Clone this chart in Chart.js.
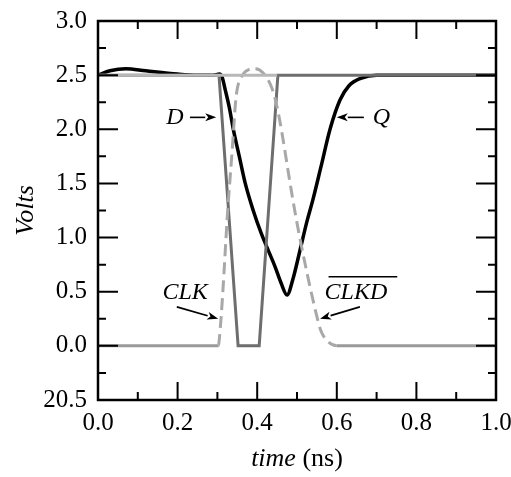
<!DOCTYPE html>
<html>
<head>
<meta charset="utf-8">
<script src="https://cdn.jsdelivr.net/npm/chart.js@4.4.0/dist/chart.umd.min.js"></script>
<style>
  html, body { margin: 0; padding: 0; background: #fff; }
  #wrap { width: 511px; height: 477px; position: relative; }
</style>
</head>
<body>
<div id="wrap"><canvas id="chart"></canvas></div>
<script>
// Q output (black)
const tQ = [0, 0.03, 0.07, 0.12, 0.2, 0.25, 0.29, 0.305, 0.312, 0.32, 0.33, 0.34, 0.355, 0.37, 0.39, 0.41, 0.445, 0.46, 0.475,
            0.49, 0.508, 0.525, 0.54, 0.56, 0.583, 0.608, 0.63, 0.66, 0.7, 0.75, 1.0];
const vQ = [2.5, 2.54, 2.56, 2.54, 2.51, 2.5, 2.5, 2.51, 2.48, 2.36, 2.2, 2.0, 1.75, 1.5, 1.25, 1.04, 0.73, 0.58, 0.47,
            0.62, 0.89, 1.15, 1.35, 1.65, 2.0, 2.27, 2.4, 2.47, 2.5, 2.5, 2.5];

// D input (dark gray)
const tD = [0, 0.304, 0.352, 0.405, 0.452, 1.0];
const vD = [2.5, 2.5, 0, 0, 2.5, 2.5];

// CLK / CLKD (light gray, dashed on the edges)
const tClk = [0, 0.302, 0.308, 0.314, 0.325, 0.337, 0.347, 0.36, 0.378, 0.395, 0.415, 0.437, 0.452, 0.49, 0.508,
              0.55, 0.56, 0.575, 0.6, 1.0];
const vClk = [0, 0, 0.2, 0.52, 1.2, 1.8, 2.3, 2.48, 2.55, 2.56, 2.52, 2.38, 2.17, 1.34, 0.98,
              0.27, 0.14, 0.05, 0, 0];

// light gray level under D
const tTop = [0, 0.45];
const vTop = [2.5, 2.5];

const xTicks = [0, 0.2, 0.4, 0.6, 0.8, 1.0];
const xTickLabels = ['0.0', '0.2', '0.4', '0.6', '0.8', '1.0'];
const yTicks = [-0.5, 0, 0.5, 1.0, 1.5, 2.0, 2.5, 3.0];
const yTickLabels = ['20.5', '0.0', '0.5', '1.0', '1.5', '2.0', '2.5', '3.0'];

// labels with arrows, in data units
const notes = [
  { text: 'D', t: 0.193, v: 2.11, from: [0.231, 2.11], to: [0.297, 2.11], bar: false },
  { text: 'Q', t: 0.712, v: 2.11, from: [0.668, 2.11], to: [0.600, 2.11], bar: false },
  { text: 'CLK', t: 0.219, v: 0.49, from: [0.198, 0.36], to: [0.302, 0.25], bar: false },
  { text: 'CLKD', t: 0.648, v: 0.49, from: [0.658, 0.36], to: [0.558, 0.25], bar: true }
];

const serif = '"Times New Roman", Times, "Liberation Serif", serif';

function pts(xs, ys) {
  return xs.map((x, i) => ({ x: x, y: ys[i] }));
}

const isEdge = ctx => ctx.p0.parsed.y > 0.01 || ctx.p1.parsed.y > 0.01;

// frame, inside ticks, titles and notes
const decor = {
  id: 'decor',
  afterDatasetsDraw(chart) {
    const c = chart.ctx;
    const a = chart.chartArea;
    const xs = chart.scales.x;
    const ys = chart.scales.y;
    c.save();
    c.strokeStyle = '#000';
    c.lineWidth = 2;
    c.beginPath();
    for (let i = 0; i <= 10; i++) {
      const px = xs.getPixelForValue(i / 10);
      const len = i % 2 === 0 ? 18 : 8;
      c.moveTo(px, a.bottom); c.lineTo(px, a.bottom - len);
      c.moveTo(px, a.top); c.lineTo(px, a.top + len);
    }
    for (let i = 0; i <= 14; i++) {
      const py = ys.getPixelForValue(-0.5 + i * 0.25);
      const len = i % 2 === 0 ? 20 : 8;
      c.moveTo(a.left, py); c.lineTo(a.left + len, py);
      c.moveTo(a.right, py); c.lineTo(a.right - len, py);
    }
    c.stroke();
    c.lineWidth = 2.5;
    c.strokeRect(a.left, a.top, a.right - a.left, a.bottom - a.top);

    // axis titles
    c.fillStyle = '#000';
    c.textBaseline = 'alphabetic';
    c.font = 'italic 26px ' + serif;
    const w1 = c.measureText('time ').width;
    c.font = '26px ' + serif;
    const w2 = c.measureText('(ns)').width;
    const cx = (a.left + a.right) / 2;
    let x0 = cx - (w1 + w2) / 2;
    c.font = 'italic 26px ' + serif;
    c.textAlign = 'left';
    c.fillText('time ', x0, 466);
    c.font = '26px ' + serif;
    c.fillText('(ns)', x0 + w1, 466);

    c.save();
    c.translate(33, (a.top + a.bottom) / 2);
    c.rotate(-Math.PI / 2);
    c.textAlign = 'center';
    c.font = 'italic 26px ' + serif;
    c.fillText('Volts', 0, 0);
    c.restore();

    // notes
    c.font = 'italic 24px ' + serif;
    c.textAlign = 'center';
    c.textBaseline = 'middle';
    c.lineWidth = 1.6;
    notes.forEach(n => {
      const px = xs.getPixelForValue(n.t);
      const py = ys.getPixelForValue(n.v);
      c.fillText(n.text, px, py);
      if (n.bar) {
        const w = c.measureText(n.text).width;
        c.beginPath();
        c.moveTo(px - w / 2 + 4, py - 16);
        c.lineTo(px + w / 2 + 10, py - 16);
        c.stroke();
      }
      const x1 = xs.getPixelForValue(n.from[0]), y1 = ys.getPixelForValue(n.from[1]);
      const x2 = xs.getPixelForValue(n.to[0]), y2 = ys.getPixelForValue(n.to[1]);
      const ang = Math.atan2(y2 - y1, x2 - x1);
      const hl = 11, hw = 4;
      const bx = x2 - hl * Math.cos(ang), by = y2 - hl * Math.sin(ang);
      c.beginPath();
      c.moveTo(x1, y1); c.lineTo(bx, by);
      c.stroke();
      c.beginPath();
      c.moveTo(x2, y2);
      c.lineTo(bx + hw * Math.sin(ang), by - hw * Math.cos(ang));
      c.lineTo(bx + 3 * Math.cos(ang), by + 3 * Math.sin(ang));
      c.lineTo(bx - hw * Math.sin(ang), by + hw * Math.cos(ang));
      c.closePath();
      c.fill();
    });
    c.restore();
  }
};

new Chart(document.getElementById('chart'), {
  type: 'line',
  data: {
    datasets: [
      {
        label: 'top',
        data: pts(tTop, vTop),
        borderColor: '#b8b8b8',
        borderWidth: 3,
        pointRadius: 0,
        tension: 0
      },
      {
        label: 'CLK',
        data: pts(tClk, vClk),
        borderColor: '#9a9a9a',
        borderWidth: 3,
        pointRadius: 0,
        cubicInterpolationMode: 'monotone',
        segment: {
          borderDash: ctx => isEdge(ctx) ? [12, 6] : undefined,
          borderColor: ctx => isEdge(ctx) ? '#a8a8a8' : undefined
        }
      },
      {
        label: 'D',
        data: pts(tD, vD),
        borderColor: '#6e6e6e',
        borderWidth: 3,
        pointRadius: 0,
        tension: 0
      },
      {
        label: 'Q',
        data: pts(tQ, vQ),
        borderColor: '#000',
        borderWidth: 3.5,
        pointRadius: 0,
        cubicInterpolationMode: 'monotone'
      }
    ]
  },
  options: {
    responsive: true,
    maintainAspectRatio: false,
    animation: false,
    events: [],
    layout: { padding: { top: 21, right: 15, bottom: 0, left: 0 } },
    plugins: {
      legend: { display: false },
      tooltip: { enabled: false }
    },
    scales: {
      x: {
        type: 'linear',
        min: 0,
        max: 1,
        afterBuildTicks: scale => { scale.ticks = xTicks.map(v => ({ value: v })); },
        afterFit: scale => { scale.height = 77; scale.paddingLeft = 0; scale.paddingRight = 0; },
        grid: { display: false, drawTicks: false },
        border: { display: false },
        ticks: {
          maxRotation: 0,
          padding: 8,
          color: '#000',
          font: { family: serif, size: 25 },
          callback: (v, i) => xTickLabels[i]
        }
      },
      y: {
        type: 'linear',
        min: -0.5,
        max: 3.0,
        afterBuildTicks: scale => { scale.ticks = yTicks.map(v => ({ value: v })); },
        afterFit: scale => { scale.width = 98; scale.paddingTop = 0; scale.paddingBottom = 0; },
        grid: { display: false, drawTicks: false },
        border: { display: false },
        ticks: {
          padding: 11,
          color: '#000',
          font: { family: serif, size: 25 },
          callback: (v, i) => yTickLabels[i]
        }
      }
    }
  },
  plugins: [decor]
});
</script>
</body>
</html>
